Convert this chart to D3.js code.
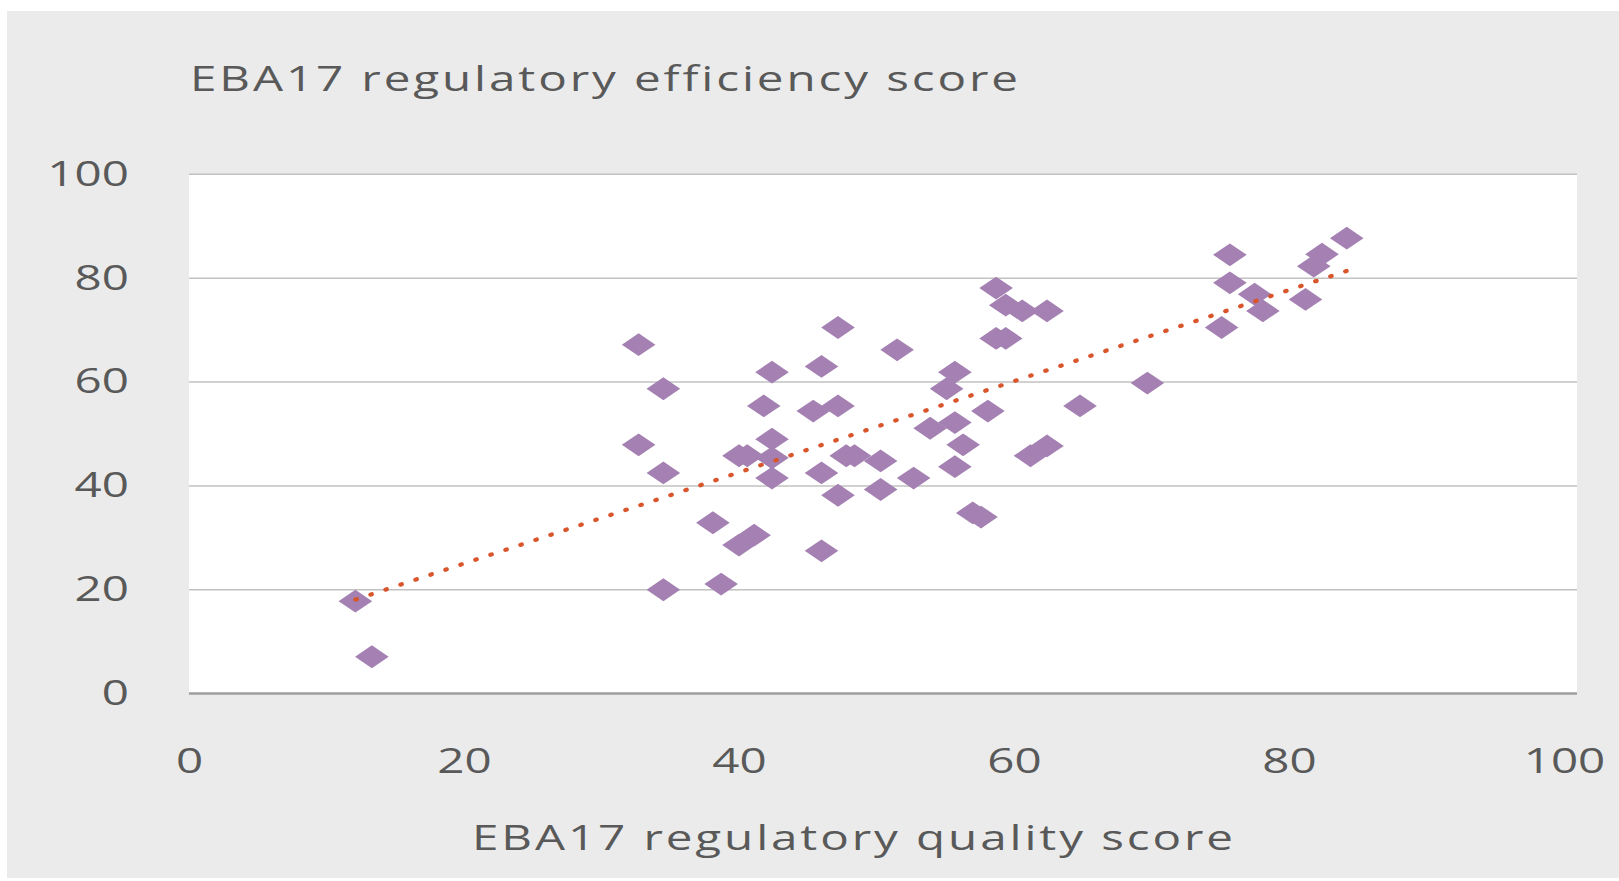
<!DOCTYPE html>
<html>
<head>
<meta charset="utf-8">
<script src="https://cdn.jsdelivr.net/npm/d3@7"></script>
<style>
  html, body { margin: 0; padding: 0; background: #fff; }
  svg { display: block; }
  text { font-family: "Open Sans", "Noto Sans", sans-serif; fill: #595959; font-variant-ligatures: none; }
</style>
</head>
<body>
<div class="chart"></div>
<script>
const w = 1619
const h = 881

// EBA17 scores, one entry per economy
const qualityScore = [
  12.1, 13.3, 32.7, 32.7, 34.5, 34.5, 34.5, 38.1, 38.7, 40.0,
  41.1, 40.0, 40.6, 42.4, 42.4, 42.4, 41.8, 42.4, 46.0, 47.2,
  45.4, 47.2, 46.0, 46.0, 47.2, 47.8, 48.4, 50.3, 50.3, 51.5,
  52.7, 53.9, 55.7, 55.1, 55.7, 56.3, 55.7, 58.1, 57.0, 57.6,
  58.7, 59.4, 60.6, 62.4, 58.7, 59.4, 61.2, 62.4, 64.8, 69.7,
  75.7, 75.7, 77.5, 78.1, 75.1, 81.2, 82.4, 81.8, 84.2
]
const efficiencyScore = [
  17.8,  7.1, 67.2, 47.9, 58.7, 42.5, 20.0, 32.9, 21.1, 28.6,
  30.5, 45.8, 45.8, 49.0, 45.4, 41.5, 55.4, 61.9, 63.0, 70.5,
  54.4, 55.4, 42.5, 27.5, 38.2, 45.8, 45.8, 44.8, 39.3, 66.2,
  41.5, 51.1, 52.2, 58.7, 61.9, 47.9, 43.7, 54.4, 34.8, 34.0,
  78.1, 74.8, 73.7, 73.7, 68.4, 68.4, 45.8, 47.7, 55.4, 59.8,
  84.5, 79.1, 76.9, 73.7, 70.5, 75.9, 84.6, 82.3, 87.7
]

const xTicks = [0, 20, 40, 60, 80, 100]
const yTicks = [0, 20, 40, 60, 80, 100]

// dotted linear trend, end points
const trendX = [12.1, 84.2]
const trendY = [18.1, 81.4]

const plot = ({left: 189, right: 1577, top: 174.3, bottom: 693.6})
const fontSize = 34
// the source picture is stretched sideways, so text gets the same stretch
const sx = 1.4

const svg = d3.select(".chart").append("svg")
    .attr("width", w)
    .attr("height", h)

// grey chart area
svg.append("rect")
    .attr("x", 7)
    .attr("y", 11)
    .attr("width", w - 7)
    .attr("height", 867)
    .attr("fill", "#ebebeb")

svg.append("rect")
    .attr("x", plot.left)
    .attr("y", plot.top)
    .attr("width", plot.right - plot.left)
    .attr("height", plot.bottom - plot.top)
    .attr("fill", "#ffffff")

const xScale = d3.scaleLinear()
    .domain([0, 100])
    .range([plot.left, 1564])

const yScale = d3.scaleLinear()
    .domain([0, 100])
    .range([plot.bottom, plot.top])

// horizontal gridlines
svg.append("g")
    .selectAll("line")
    .data(yTicks)
    .enter()
    .append("line")
    .attr("x1", plot.left)
    .attr("x2", plot.right)
    .attr("y1", d => yScale(d))
    .attr("y2", d => yScale(d))
    .attr("stroke", d => d === 0 ? "#9e9e9e" : "#c2c2c2")
    .attr("stroke-width", d => d === 0 ? 2.5 : 1.5)

const yAxis = d3.axisLeft(yScale)
    .tickValues(yTicks)
    .tickSize(0)

const xAxis = d3.axisBottom(xScale)
    .tickValues(xTicks)
    .tickSize(0)
    .tickPadding(55.3)

svg.append("g")
    .attr("class", "axis y-axis")
    .attr("transform", `translate(${plot.left},0)`)
    .call(yAxis)
    .selectAll("text")
    .attr("x", -(plot.left - 129) / sx)

svg.append("g")
    .attr("class", "axis x-axis")
    .attr("transform", `translate(0,${plot.bottom})`)
    .call(xAxis)

svg.selectAll(".axis .domain").remove()
svg.selectAll(".axis")
    .attr("font-family", null)
    .attr("font-size", null)
svg.selectAll(".axis text")
    .style("font-size", fontSize + "px")
    .attr("transform", `scale(${sx},1)`)
    .attr("fill", "#595959")

// wide diamond marker
const wideDiamond = {
    draw(context) {
        const hw = 16.8, hh = 11.4
        context.moveTo(0, -hh)
        context.lineTo(hw, 0)
        context.lineTo(0, hh)
        context.lineTo(-hw, 0)
        context.closePath()
    }
}

svg.append("g")
    .selectAll("path")
    .data(qualityScore.map((q, i) => ({q: q, e: efficiencyScore[i]})))
    .enter()
    .append("path")
    .attr("transform", d => `translate(${xScale(d.q)},${yScale(d.e)})`)
    .attr("d", d3.symbol().type(wideDiamond))
    .attr("fill", "#a481b2")

const trendLine = d3.line()
    .x(d => xScale(d[0]))
    .y(d => yScale(d[1]))

svg.append("path")
    .datum(trendX.map((x, i) => [x, trendY[i]]))
    .attr("d", trendLine)
    .attr("fill", "none")
    .attr("stroke", "#d9552b")
    .attr("stroke-width", 4.2)
    .attr("stroke-linecap", "round")
    .attr("stroke-dasharray", "1.5 14.3")

// titles
svg.append("text")
    .attr("transform", `translate(190,90.7) scale(${sx},1)`)
    .attr("font-size", fontSize)
    .attr("textLength", 828 / sx)
    .attr("lengthAdjust", "spacing")
    .text("EBA17 regulatory efficiency score")

svg.append("text")
    .attr("transform", `translate(472,850) scale(${sx},1)`)
    .attr("font-size", fontSize)
    .attr("textLength", 761 / sx)
    .attr("lengthAdjust", "spacing")
    .text("EBA17 regulatory quality score")
</script>
</body>
</html>
